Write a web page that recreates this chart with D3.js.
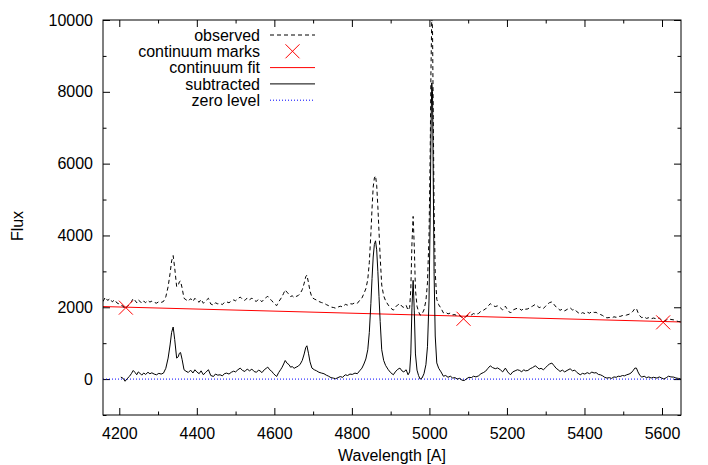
<!DOCTYPE html>
<html><head><meta charset="utf-8">
<script src="https://cdn.jsdelivr.net/npm/d3@7"></script>
<style>
body{margin:0;background:#fff;}
svg{display:block;font-family:"Liberation Sans",Arial,sans-serif;}
</style></head>
<body><svg id="c" width="708" height="465"></svg>
<script>
const wavelength = [4158,4164,4170,4176,4182,4188,4194,4200,4204,4210,4215,4220,4226,4231,4236,4241,4245,4249,4253,4258,4263,4268,4274,4279,4284,4290,4296,4302,4308,4314,4320,4326,4331,4335,4339,4343,4348,4352,4355,4358,4362,4367,4372,4378,4384,4390,4395,4400,4406,4411,4417,4422,4426,4430,4436,4443,4448,4454,4460,4466,4471,4477,4483,4489,4495,4500,4506,4512,4518,4524,4530,4536,4542,4548,4554,4559,4563,4568,4574,4579,4583,4588,4593,4598,4602,4606,4611,4616,4620,4624,4628,4633,4638,4642,4646,4651,4656,4662,4667,4672,4677,4681,4684,4688,4692,4697,4703,4709,4715,4722,4728,4734,4740,4746,4752,4758,4764,4770,4776,4783,4789,4795,4801,4808,4814,4820,4826,4831,4836,4841,4845,4849,4852,4855,4858,4861,4864,4867,4870,4873,4877,4882,4887,4894,4900,4907,4912,4918,4924,4929,4934,4940,4945,4949,4952,4955,4958,4961,4964,4968,4972,4976,4981,4986,4991,4995,4999,5002,5004,5006,5008,5010,5012,5015,5019,5024,5030,5036,5042,5048,5054,5060,5066,5072,5078,5084,5090,5096,5102,5108,5114,5120,5127,5133,5139,5145,5151,5157,5163,5170,5176,5183,5189,5196,5202,5209,5215,5221,5227,5233,5238,5243,5248,5254,5260,5266,5273,5278,5283,5288,5294,5300,5305,5310,5316,5321,5327,5332,5337,5343,5349,5355,5363,5369,5375,5381,5389,5395,5401,5407,5413,5419,5425,5430,5436,5441,5447,5452,5458,5464,5470,5476,5482,5487,5492,5498,5503,5509,5515,5520,5525,5530,5534,5538,5543,5548,5554,5560,5566,5572,5578,5587,5593,5599,5605,5611,5617,5623,5630,5636,5642,5649];
const observed = [2160,2280,2190,2240,2150,2210,2120,2090,2063,2030,1950,2015,2080,2150,2245,2185,2125,2205,2170,2110,2170,2130,2190,2145,2170,2135,2115,2155,2135,2160,2290,2575,2940,3290,3440,3090,2575,2610,2710,2730,2540,2250,2210,2170,2240,2160,2250,2190,2140,2220,2110,2170,2210,2250,2090,2060,2125,2095,2105,2075,2135,2150,2125,2175,2205,2180,2240,2285,2220,2190,2260,2210,2255,2185,2165,2225,2200,2155,2235,2275,2305,2230,2190,2120,2080,2045,2150,2230,2300,2390,2485,2410,2370,2300,2320,2270,2300,2330,2390,2490,2670,2850,2895,2690,2450,2275,2230,2200,2160,2130,2115,2075,2045,2005,1995,1975,2005,2030,2010,2080,2060,2100,2090,2125,2110,2190,2260,2380,2515,2770,3250,4050,4750,5350,5600,5660,5400,4800,4100,3400,2620,2320,2180,2060,1980,1920,2000,2065,2100,2025,1995,2055,1915,1995,2490,3790,4530,3680,2490,2030,1880,1780,1810,1930,2180,2680,3980,6280,8580,10050,9780,7280,4780,2980,2220,2070,1970,1845,1865,1815,1840,1790,1795,1755,1770,1720,1705,1755,1800,1785,1825,1800,1830,1890,1915,1955,2030,2100,2050,2020,2040,1985,1925,2030,1920,1840,1920,1950,1975,1955,1915,1975,1945,1955,2000,2030,2080,2040,1990,2010,1970,2030,2090,2130,2150,2085,2005,1965,1915,1950,1900,1940,1985,1925,1945,1870,1810,1850,1825,1865,1835,1880,1855,1860,1810,1800,1770,1730,1705,1715,1695,1735,1720,1750,1745,1770,1755,1785,1805,1835,1890,1965,1965,1855,1755,1710,1735,1690,1710,1680,1700,1675,1705,1635,1605,1645,1680,1660,1650,1620,1605,1590];
const subtracted = [null,null,null,null,null,null,null,null,56,20,-60,10,73,150,240,180,120,200,167,110,170,130,190,148,175,140,120,160,140,167,300,585,950,1300,1450,1100,585,620,720,740,550,260,220,184,250,170,260,200,150,230,120,180,220,260,100,73,140,110,120,90,150,167,140,190,220,200,260,306,240,212,280,230,278,210,190,250,230,180,260,300,334,260,220,150,110,73,180,260,330,420,518,440,400,330,350,300,330,362,420,520,700,880,928,720,480,306,260,230,190,167,150,110,80,40,28,10,40,70,50,120,100,140,130,167,150,230,306,420,560,816,1300,2100,2800,3400,3750,3850,3600,3000,2300,1600,816,520,380,260,180,120,200,270,306,230,200,260,120,200,700,2000,2750,1900,700,250,100,0,30,150,400,900,2200,4500,6800,8250,8000,5500,3000,1200,450,300,200,80,100,50,80,30,40,0,20,-30,-40,10,50,40,80,60,92,150,180,220,300,370,320,290,310,260,200,306,200,120,200,230,260,240,200,260,230,240,290,320,370,330,280,300,260,320,380,420,446,380,300,260,212,250,200,240,287,230,250,180,120,160,140,180,150,195,170,180,130,120,90,50,28,40,20,60,50,80,73,100,90,120,140,170,230,306,306,200,100,56,80,40,60,30,50,28,60,30,0,40,80,60,56,30,20,0];
const markWave = [4217, 5088, 5603];
const markFlux = [1990, 1680, 1580];
const fitWave = [4158, 5649];
const fitFlux = [2020, 1590];
const zeroWave = [4158, 5649];
const zeroFlux = [0, 0];
const xTicks = [4200,4400,4600,4800,5000,5200,5400,5600];
const xMinor = [4300,4500,4700,4900,5100,5300,5500];
const yTicks = [0,2000,4000,6000,8000,10000];
const yMinor = [-1000,1000,3000,5000,7000,9000];
const legendLabels = ["observed","continuum marks","continuum fit","subtracted","zero level"];

(function(){
const svg = d3.select("#c");
const L=103,R=681,T=20,B=415;
const x = d3.scaleLinear().domain([4158,5649]).range([L,R]);
const y = d3.scaleLinear().domain([-1000,10000]).range([B,T]);

svg.append("defs").append("clipPath").attr("id","clip")
  .append("rect").attr("x",L).attr("y",T).attr("width",R-L).attr("height",B-T);

const fs = 16;
const ax = svg.append("g");
ax.append("g").attr("transform",`translate(0,${B})`)
  .call(d3.axisBottom(x).tickValues(xTicks).tickSize(-7).tickPadding(13).tickFormat(d3.format("d")));
ax.append("g").attr("transform",`translate(0,${B})`)
  .call(d3.axisBottom(x).tickValues(xMinor).tickSize(-3.5).tickFormat(""));
ax.append("g").attr("transform",`translate(0,${T})`)
  .call(d3.axisTop(x).tickValues(xTicks).tickSize(-7).tickFormat(""));
ax.append("g").attr("transform",`translate(0,${T})`)
  .call(d3.axisTop(x).tickValues(xMinor).tickSize(-3.5).tickFormat(""));
ax.append("g").attr("transform",`translate(${L},0)`)
  .call(d3.axisLeft(y).tickValues(yTicks).tickSize(-7).tickPadding(10).tickFormat(d3.format("d")));
ax.append("g").attr("transform",`translate(${L},0)`)
  .call(d3.axisLeft(y).tickValues(yMinor).tickSize(-3.5).tickFormat(""));
ax.append("g").attr("transform",`translate(${R},0)`)
  .call(d3.axisRight(y).tickValues(yTicks).tickSize(-7).tickFormat(""));
ax.append("g").attr("transform",`translate(${R},0)`)
  .call(d3.axisRight(y).tickValues(yMinor).tickSize(-3.5).tickFormat(""));
ax.selectAll(".domain").remove();
ax.selectAll("g").attr("font-size",fs).attr("font-family","Liberation Sans, Arial, sans-serif");
ax.selectAll("text").attr("fill","#000");
ax.selectAll("line").attr("stroke","#000");

const plot = svg.append("g").attr("clip-path","url(#clip)");
const line = d3.line().defined(d=>d[1]!=null).x(d=>x(d[0])).y(d=>y(d[1]));

plot.append("path").datum(zeroWave.map((w,i)=>[w,zeroFlux[i]]))
  .attr("d",line).attr("fill","none").attr("stroke","#0000ff").attr("stroke-width",1).attr("stroke-dasharray","1,2");
plot.append("path").datum(fitWave.map((w,i)=>[w,fitFlux[i]]))
  .attr("d",line).attr("fill","none").attr("stroke","#ff0000").attr("stroke-width",1);
plot.append("path").datum(wavelength.map((w,i)=>[w,subtracted[i]]))
  .attr("d",line).attr("fill","none").attr("stroke","#000").attr("stroke-width",1);
plot.append("path").datum(wavelength.map((w,i)=>[w,observed[i]]))
  .attr("d",line).attr("fill","none").attr("stroke","#000").attr("stroke-width",1).attr("stroke-dasharray","4,3");

const cross = (g,cx,cy,s)=>{
  g.append("path").attr("d",`M${cx-s},${cy-s}L${cx+s},${cy+s}M${cx-s},${cy+s}L${cx+s},${cy-s}`)
   .attr("stroke","#ff0000").attr("stroke-width",1).attr("fill","none");
};
markWave.forEach((w,i)=>cross(plot,x(w),y(markFlux[i]),7));

svg.append("rect").attr("x",L).attr("y",T).attr("width",R-L).attr("height",B-T)
  .attr("fill","none").attr("stroke","#000").attr("stroke-width",1);

const leg = svg.append("g").attr("font-size",fs);
const ly0=35, ldy=16.3, tx=260, s0=270, s1=315;
legendLabels.forEach((t,i)=>{
  const yy = ly0+i*ldy;
  leg.append("text").attr("x",tx).attr("y",yy).attr("dy","0.35em").attr("text-anchor","end").text(t);
  if(i===0) leg.append("line").attr("x1",s0).attr("x2",s1).attr("y1",yy).attr("y2",yy).attr("stroke","#000").attr("stroke-dasharray","4,3");
  if(i===1) cross(leg,(s0+s1)/2,yy,7);
  if(i===2) leg.append("line").attr("x1",s0).attr("x2",s1).attr("y1",yy).attr("y2",yy).attr("stroke","#ff0000");
  if(i===3) leg.append("line").attr("x1",s0).attr("x2",s1).attr("y1",yy).attr("y2",yy).attr("stroke","#000");
  if(i===4) leg.append("line").attr("x1",s0).attr("x2",s1).attr("y1",yy).attr("y2",yy).attr("stroke","#0000ff").attr("stroke-dasharray","1,2");
});

svg.append("text").attr("x",(L+R)/2).attr("y",461).attr("text-anchor","middle").attr("font-size",fs).text("Wavelength [A]");
svg.append("text").attr("transform","translate(23,226) rotate(-90)").attr("text-anchor","middle").attr("font-size",fs).text("Flux");
})();
</script></body></html>
